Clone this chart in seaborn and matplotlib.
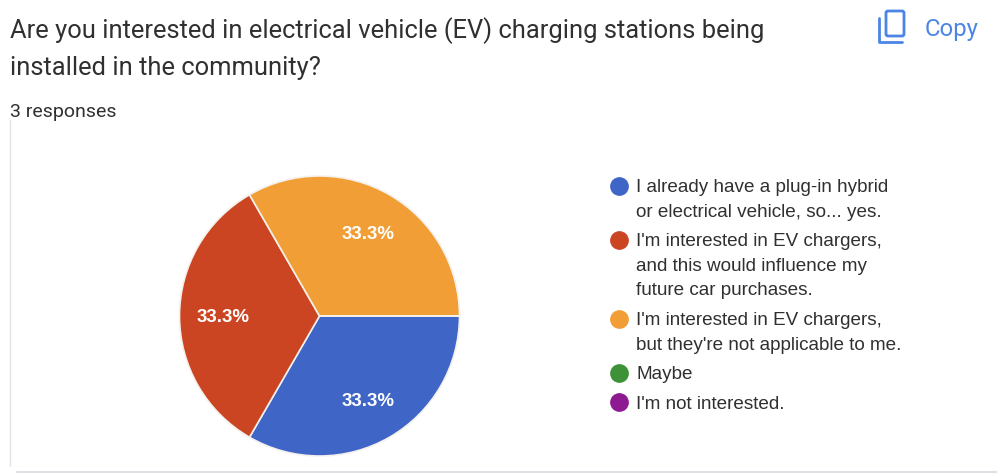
import seaborn as sns
import matplotlib.pyplot as plt
from matplotlib.patches import FancyBboxPatch

answers = [
    "I already have a plug-in hybrid\nor electrical vehicle, so... yes.",
    "I'm interested in EV chargers,\nand this would influence my\nfuture car purchases.",
    "I'm interested in EV chargers,\nbut they're not applicable to me.",
    "Maybe",
    "I'm not interested.",
]
responses = [1, 1, 1, 0, 0]
colors = ["#3f65c6", "#cc4522", "#f29e36", "#3d9136", "#8e1a92"]

title_lines = [
    "Are you interested in electrical vehicle (EV) charging stations being",
    "installed in the community?",
]
subtitle = "3 responses"

W, H = 997, 476
TEXT = "#303030"
BLUE = "#4c85e4"


def pct_label(p):
    return f"{p:.1f}%" if p > 0 else ""


def draw_card(bg):
    # page furniture in pixel coordinates
    bg.plot([10, 10], [120, 466], color="#e2e3e8", lw=1.0)
    bg.plot([17, 997], [472, 472], color="#e0e1e6", lw=1.5)
    bg.add_patch(FancyBboxPatch((886, 11), 18, 25, boxstyle="round,pad=0,rounding_size=2",
                                fill=False, ec=BLUE, lw=2.0))
    bg.plot([879, 879, 902], [18, 42, 42], color=BLUE, lw=2.0, solid_joinstyle="round")
    bg.text(925, 27, "Copy", color=BLUE, fontsize=17.2, va="center_baseline", ha="left")
    bg.text(10, 28, title_lines[0], color=TEXT, fontsize=18.4, va="center_baseline", ha="left")
    bg.text(10, 65.5, title_lines[1], color=TEXT, fontsize=18.4, va="center_baseline", ha="left")
    bg.text(10, 110, subtitle, color=TEXT, fontsize=14, va="center_baseline", ha="left")


def draw_legend(bg, palette):
    y = 185.5
    for label, color in zip(answers, palette):
        bg.plot([618.7], [y], marker="o", markersize=13.5, color=color, markeredgecolor="none",
                linestyle="none")
        for line in label.split("\n"):
            bg.text(636, y, line, color=TEXT, fontsize=13.6, va="center_baseline", ha="left",
                    family="Liberation Sans")
            y += 24.6
        y += 5.0


def main():
    sns.set_theme(style="white")
    plt.rcParams["font.family"] = ["Roboto", "DejaVu Sans"]
    palette = sns.color_palette(colors)

    fig = plt.figure(figsize=(W / 100, H / 100), dpi=100)
    bg = fig.add_axes([0, 0, 1, 1])
    bg.set_xlim(0, W)
    bg.set_ylim(H, 0)
    bg.axis("off")
    draw_card(bg)
    draw_legend(bg, palette)

    ax = fig.add_axes([179.5 / W, 1 - 456 / H, 280 / W, 280 / H])
    wedges, _, autotexts = ax.pie(
        responses, colors=palette, startangle=0, counterclock=False, radius=1,
        autopct=pct_label, pctdistance=0.69,
        wedgeprops={"edgecolor": "#f4f1ec", "linewidth": 1.2},
    )
    for t in autotexts:
        t.set_color("white")
        t.set_fontsize(13.4)
        t.set_fontweight("bold")
        t.set_family("Liberation Sans")
        t.set_va("center_baseline")
    ax.set_xlim(-1, 1)
    ax.set_ylim(-1, 1)

    fig.savefig("out.png", dpi=100, facecolor="white")


if __name__ == "__main__":
    main()
